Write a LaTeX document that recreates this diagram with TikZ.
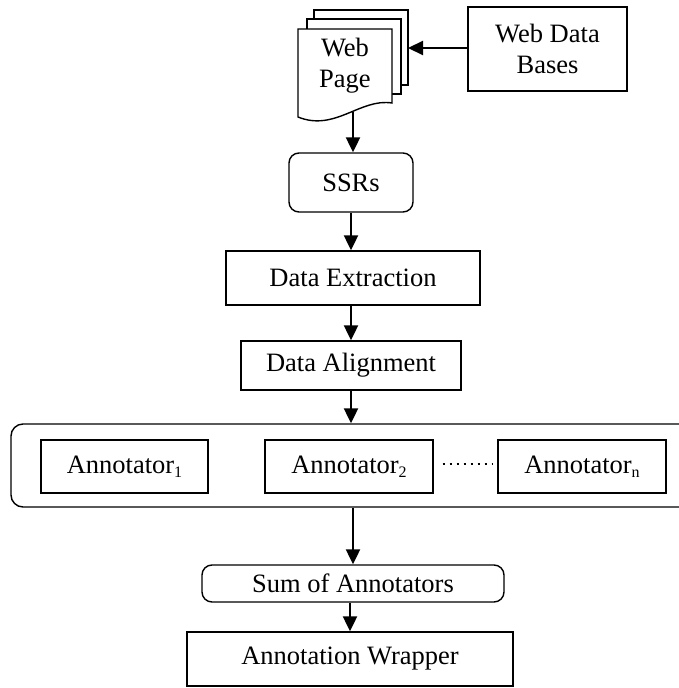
\documentclass[tikz,border=0pt]{standalone}
\usepackage{fontspec}
\setmainfont{Liberation Serif}
\usetikzlibrary{arrows.meta,calc}
\newcommand{\mysub}[1]{\raisebox{-0.35ex}{\fontsize{16}{16}\selectfont #1}}
\begin{document}
\begin{tikzpicture}[x=1pt,y=-1pt,
  box/.style={draw,line width=1.4pt,fill=white,inner sep=0pt,align=center,
    font=\fontsize{26.5}{31}\selectfont},
  rbox/.style={box,rounded corners=10pt},
  arr/.style={line width=2.2pt,-{Triangle[length=15pt,width=14pt]}},
  page/.style={draw,line width=1.4pt,fill=white}]
\useasboundingbox (0,0) rectangle (678,688);
% document stack
\draw[page] (314,10) rectangle (408,85);
\draw[page] (307,19) rectangle (401,94);
\draw[page] (298,29) -- (392,29) -- (392,103) .. controls (360,98) and (335,132) .. (298,117) -- cycle;
\node[font=\fontsize{26.5}{31}\selectfont,align=center,inner sep=0pt] (wp) at (345,66) {Web\\Page};
\coordinate (bp) at (408,48);
\coordinate (wpb) at (353,112);
\node[box,minimum width=159pt,minimum height=84pt] (wdb) at (547.5,49) {Web Data\\Bases};
\node[rbox,minimum width=124pt,minimum height=59pt] (ssr) at (351,182.5) {SSRs};
\node[box,minimum width=254pt,minimum height=54pt] (de) at (353,278) {Data Extraction};
\node[box,minimum width=220pt,minimum height=49pt] (da) at (351,365.5) {Data Alignment};
\node[rbox,rounded corners=12pt,minimum width=689pt,minimum height=83pt] (ann) at (355.5,465.5) {};
\node[box,minimum width=167pt,minimum height=53pt] (a1) at (124.5,466.5) {Annotator\mysub{1}};
\node[box,minimum width=168pt,minimum height=53pt] (a2) at (349,466.5) {Annotator\mysub{2}};
\node[box,minimum width=168pt,minimum height=53pt] (an) at (582,466.5) {Annotator\mysub{n}};
\node[rbox,minimum width=302pt,minimum height=37pt] (sum) at (353,583.5) {Sum of Annotators};
\node[box,minimum width=326pt,minimum height=54pt] (aw) at (350,659) {Annotation Wrapper};
% dots
\draw[line width=2pt,dash pattern=on 2pt off 5pt] ($(a2.east)+(9,-3)$) -- ($(an.west)+(-5,-3)$);
% arrows
\draw[arr] (wdb.west |- bp) -- (bp);
\draw[arr] (wpb) -- (wpb |- ssr.north);
\draw[arr] (ssr.south) -- (ssr.south |- de.north);
\draw[arr] (de.south -| ssr.south) -- (ssr.south |- da.north);
\draw[arr] (da.south) -- (da.south |- ann.north);
\draw[arr] (ann.south -| sum.north) -- (sum.north);
\draw[arr] (sum.south -| aw.north) -- (aw.north);
\end{tikzpicture}
\end{document}
